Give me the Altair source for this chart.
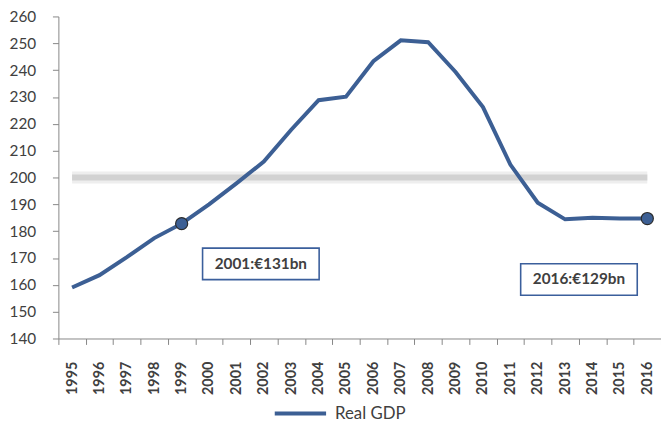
import altair as alt
import pandas as pd

years = [str(y) for y in range(1995, 2017)]
gdp = [159.0, 163.6, 170.3, 177.4, 182.8, 190.0, 197.8, 205.9, 217.8, 228.8,
       230.1, 243.3, 251.1, 250.4, 239.3, 226.2, 204.8, 190.6, 184.4, 185.0,
       184.7, 184.7]
series_name = "Real GDP"
marker_years = ["1999", "2016"]
ann_years = ["2002", "2013"]
ann_values = [167.8, 162.0]
ann_texts = ["2001:€131bn", "2016:€129bn"]
ref_value = 200

BLUE = "#3c5f94"
FONT = "Lato"
ann_shift = [-3, 14]  # pixel nudges for the annotation boxes

df = pd.DataFrame({"year": years, "gdp": gdp, "series": series_name})
marks_df = df[df["year"].isin(marker_years)]
ref_df = pd.DataFrame({"x": [years[0]], "x2": [years[-1]], "v": [ref_value]})

xscale = alt.Scale(domain=years, paddingInner=0, paddingOuter=0)
yscale = alt.Scale(domain=[140, 260], nice=False, zero=False)

xaxis = alt.Axis(labelAngle=270, labelFontWeight="bold", labelFontSize=14.5,
                 labelFont=FONT, labelColor="#404040", tickBand="extent",
                 tickSize=6, tickColor="#868686", domainColor="#868686",
                 labelPadding=17, labelAlign="right", labelBaseline="middle",
                 labelOverlap=False)
yaxis = alt.Axis(values=list(range(140, 261, 10)), grid=False, tickSize=6,
                 tickColor="#868686", domainColor="#868686",
                 labelFont=FONT, labelFontSize=15.5, labelColor="#404040",
                 labelPadding=17, labelOverlap=False)


def xn(field):
    return alt.X(field, sort=years, scale=xscale, axis=xaxis, title=None)


def yq(field):
    return alt.Y(field, scale=yscale, axis=yaxis, title=None)


ref_glow = alt.Chart(ref_df).mark_rule(strokeWidth=12, color="#eeeeee").encode(
    x=xn("x:N"), x2="x2:N", y=yq("v:Q"))
ref_line = alt.Chart(ref_df).mark_rule(strokeWidth=6, color="#d2d2d2").encode(
    x=xn("x:N"), x2="x2:N", y=yq("v:Q"))

line = alt.Chart(df).mark_line(strokeWidth=4).encode(
    x=xn("year:N"), y=yq("gdp:Q"),
    color=alt.Color("series:N", scale=alt.Scale(domain=[series_name], range=[BLUE]),
                    legend=alt.Legend(title=None, orient="none", legendX=217, legendY=374,
                                      symbolType="stroke", symbolSize=2700,
                                      symbolStrokeWidth=4, labelFont=FONT,
                                      labelFontSize=17, labelColor="#404040",
                                      labelOffset=7)))

pts = alt.Chart(marks_df).mark_point(filled=True, size=150, color=BLUE, stroke="#2b2b2b",
                                     strokeWidth=1.2, opacity=1).encode(
    x=xn("year:N"), y=yq("gdp:Q"))

ann_layers = []
for yr, val, label, shift in zip(ann_years, ann_values, ann_texts, ann_shift):
    adf = pd.DataFrame({"year": [yr], "v": [val], "t": [label]})
    ann_layers.append(
        alt.Chart(adf).mark_point(shape="M-1,-0.27H1V0.27H-1Z", size=118 * 118,
                                  filled=False, stroke="#3b5f9c", strokeWidth=1.6,
                                  opacity=1, xOffset=shift).encode(
            x=xn("year:N"), y=yq("v:Q")))
    ann_layers.append(
        alt.Chart(adf).mark_text(font=FONT, fontWeight="bold", fontSize=15.5,
                                 color="#404040", dx=shift).encode(
            x=xn("year:N"), y=yq("v:Q"), text="t:N"))

chart = alt.layer(ref_glow, ref_line, line, pts, *ann_layers).properties(
    width=610, height=326,
    autosize=alt.AutoSizeParams(type="none"),
    padding={"left": 51, "top": 6, "right": 0, "bottom": 84},
).configure_view(stroke=None)

chart.save("out.html", embed_options={"renderer": "svg", "actions": False})
